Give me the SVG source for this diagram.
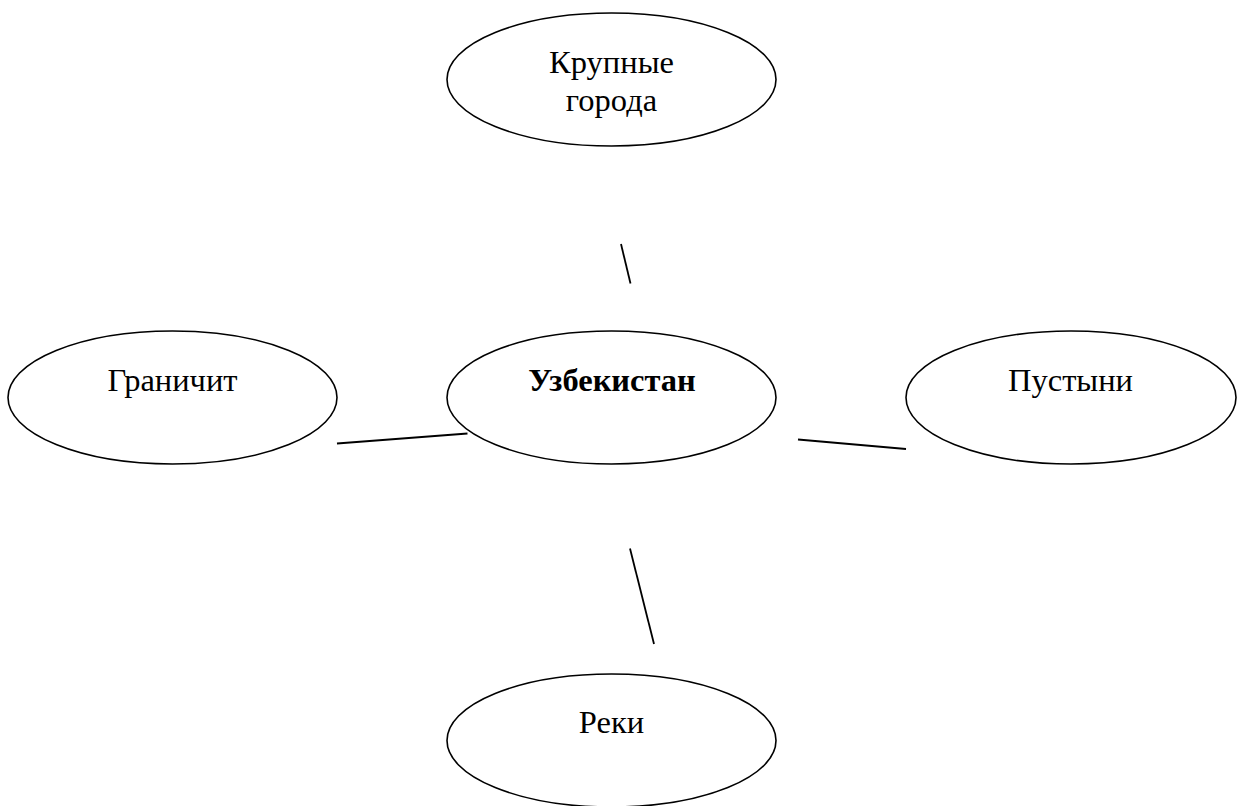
<svg xmlns="http://www.w3.org/2000/svg" width="1243" height="806" viewBox="0 0 1243 806">
<style>
.node ellipse{fill:#fff;stroke:#000;stroke-width:1.6}
.node text{font-family:"Liberation Serif","Times New Roman",serif;font-size:32.5px;fill:#000;text-anchor:middle}
.bold{font-weight:bold}
#connectors line{stroke:#000;stroke-width:1.8}
</style>
<rect width="1243" height="806" fill="#fff"/>
<g id="connectors">
<line x1="621" y1="244" x2="630.5" y2="283.5"/>
<line x1="337" y1="443.5" x2="467.5" y2="433.5"/>
<line x1="798" y1="439.5" x2="906" y2="449"/>
<line x1="630" y1="548.5" x2="654" y2="644"/>
</g>
<g id="node-top" class="node">
<ellipse cx="611.5" cy="79.5" rx="164.5" ry="66.5"/>
<text x="611.5" y="73">Крупные</text>
<text x="611.5" y="111">города</text>
</g>
<g id="node-left" class="node">
<ellipse cx="172.5" cy="397.5" rx="164.5" ry="66.5"/>
<text x="172.5" y="390.5">Граничит</text>
</g>
<g id="node-center" class="node">
<ellipse cx="611.5" cy="397.5" rx="164.5" ry="66.5"/>
<text x="612" y="390.5" class="bold">Узбекистан</text>
</g>
<g id="node-right" class="node">
<ellipse cx="1071" cy="397.5" rx="165" ry="66.5"/>
<text x="1070.5" y="391">Пустыни</text>
</g>
<g id="node-bottom" class="node">
<ellipse cx="611.5" cy="740.5" rx="164.5" ry="66.5"/>
<text x="611.5" y="733">Реки</text>
</g>
</svg>
